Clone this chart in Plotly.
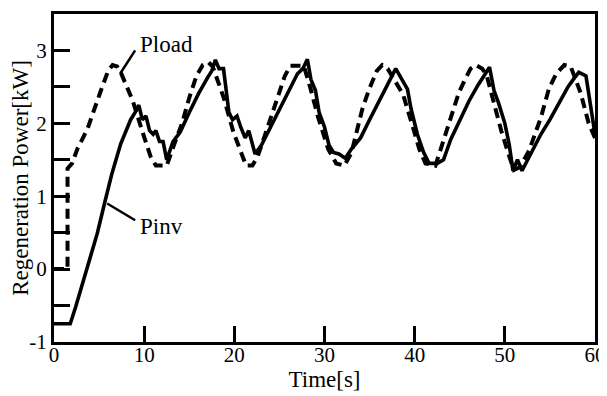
import plotly.graph_objects as go

# Pload (dashed)
t_load = [0, 1.5, 1.5, 2.0, 2.6, 3.7, 5.2, 6.0, 6.5, 7.0, 7.4, 8.7, 10.0, 10.7, 11.3, 12.5,
          13.3, 14.2, 15.0, 15.8, 16.5, 17.1, 17.6, 18.8, 19.9, 20.7, 21.3, 22.0, 22.6, 23.7,
          24.8, 25.6, 26.2, 27.7, 28.4, 29.3, 30.4, 31.3, 32.2, 33.0, 34.2, 34.9, 35.8, 36.4,
          37.0, 38.0, 38.7, 39.8, 40.5, 41.2, 42.3, 42.9, 44.0, 44.9, 45.5, 46.2, 46.8, 47.5,
          48.0, 48.8, 49.6, 50.4, 51.0, 51.7, 52.7, 54.0, 54.9, 55.7, 56.6, 57.3, 58.4, 59.3, 60.0]
p_load = [0, 0, 1.38, 1.45, 1.65, 1.92, 2.45, 2.72, 2.8, 2.78, 2.7, 2.32, 1.81, 1.55, 1.42, 1.42,
          1.7, 2.0, 2.35, 2.65, 2.8, 2.84, 2.78, 2.36, 1.88, 1.6, 1.42, 1.42, 1.55, 1.95,
          2.35, 2.65, 2.79, 2.79, 2.5, 2.08, 1.65, 1.45, 1.42, 1.6, 2.2, 2.45, 2.72, 2.8,
          2.75, 2.55, 2.4, 1.95, 1.65, 1.45, 1.42, 1.65, 2.05, 2.42, 2.58, 2.75, 2.8, 2.75,
          2.65, 2.27, 1.9, 1.58, 1.36, 1.4, 1.63, 2.08, 2.48, 2.68, 2.8, 2.78, 2.42, 2.0, 1.8]

# Pinv (solid)
t_inv = [0, 1.8, 2.4, 3.7, 4.8, 5.6, 6.4, 7.4, 8.5, 9.0, 9.4, 9.8, 10.2, 10.6, 11.0, 11.3, 11.7,
         12.1, 12.5, 13.2, 14.0, 15.0, 16.0, 17.0, 17.5, 17.9, 18.3, 18.8, 19.4, 19.8, 20.3,
         20.7, 21.2, 21.6, 22.3, 23.0, 24.0, 25.0, 26.0, 27.0, 27.6, 28.1, 28.5, 29.0, 29.4,
         30.0, 30.5, 31.0, 31.6, 32.3, 33.0, 34.0, 35.0, 36.0, 37.0, 37.9, 38.5, 39.2, 39.6,
         40.3, 41.0, 41.6, 42.5, 43.2, 44.0, 45.0, 46.0, 47.0, 47.8, 48.3, 48.8, 49.3, 50.0,
         50.5, 50.9, 51.4, 51.9, 52.5, 53.3, 54.0, 55.0, 56.0, 57.0, 57.7, 58.2, 59.0, 59.4, 60.0]
p_inv = [-0.75, -0.75, -0.52, 0.03, 0.49, 0.9, 1.3, 1.72, 2.05, 2.15, 2.25, 2.05, 2.1, 1.9, 1.85,
         1.9, 1.75, 1.75, 1.5, 1.75, 1.88, 2.15, 2.4, 2.62, 2.72, 2.87, 2.75, 2.75, 2.15, 2.05,
         2.1, 1.95, 1.8, 1.9, 1.58, 1.7, 1.95, 2.2, 2.45, 2.68, 2.75, 2.88, 2.6, 2.45, 2.15,
         1.95, 1.7, 1.6, 1.58, 1.52, 1.65, 1.8, 2.05, 2.3, 2.55, 2.75, 2.62, 2.47, 2.2,
         1.85, 1.6, 1.45, 1.45, 1.5, 1.78, 2.05, 2.3, 2.52, 2.68, 2.77, 2.45, 2.28, 2.0,
         1.7, 1.35, 1.5, 1.35, 1.5, 1.7, 1.85, 2.05, 2.28, 2.5, 2.62, 2.7, 2.65, 2.3, 1.85]

x_ticks = [0, 10, 20, 30, 40, 50, 60]
y_ticks = [-1, 0, 1, 2, 3]

FONT = "Liberation Serif, Times New Roman, serif"

fig = go.Figure()
fig.add_trace(go.Scatter(x=t_load, y=p_load, mode="lines",
                         line=dict(color="black", width=4, dash="10px,6px"),
                         name="Pload", showlegend=False))
fig.add_trace(go.Scatter(x=t_inv, y=p_inv, mode="lines",
                         line=dict(color="black", width=3.6),
                         name="Pinv", showlegend=False))

# leader lines
fig.add_shape(type="line", xref="x", yref="y", x0=7.33, y0=2.68, x1=9.0, y1=3.0,
              line=dict(color="black", width=2.5))
fig.add_shape(type="line", xref="x", yref="y", x0=5.9, y0=0.9, x1=9.0, y1=0.67,
              line=dict(color="black", width=2.5))
fig.add_annotation(x=9.3, y=3.08, text="Pload", showarrow=False, xanchor="left",
                   yanchor="middle", font=dict(family=FONT, size=23, color="black"))
fig.add_annotation(x=9.3, y=0.59, text="Pinv", showarrow=False, xanchor="left",
                   yanchor="middle", font=dict(family=FONT, size=23, color="black"))

# page body has an 8px margin, so the figure is 8px smaller than the window
fig.update_layout(
    width=599, height=388,
    margin=dict(l=46, r=12, t=6, b=54),
    paper_bgcolor="white", plot_bgcolor="white",
    font=dict(family=FONT, color="black", size=21),
    xaxis=dict(range=[0, 60], tickvals=x_ticks, ticktext=[str(v) for v in x_ticks],
               ticks="inside", ticklen=16, tickwidth=3, tickcolor="black",
               ticklabelstandoff=-8,
               showline=True, linewidth=3, linecolor="black", mirror=True,
               showgrid=False, zeroline=False, automargin=False,
               tickfont=dict(family=FONT, size=21, color="black"),
               title=dict(text="Time[s]", font=dict(family=FONT, size=23), standoff=0)),
    yaxis=dict(range=[-1, 3.5], tickvals=y_ticks, ticktext=[str(v) for v in y_ticks],
               ticks="inside", ticklen=16, tickwidth=3, tickcolor="black",
               minor=dict(dtick=0.5, tick0=0, ticks="inside", ticklen=16, tickwidth=3,
                          tickcolor="black", showgrid=False),
               showline=True, linewidth=3, linecolor="black", mirror=True,
               showgrid=False, zeroline=False, automargin=False,
               tickfont=dict(family=FONT, size=21, color="black"),
               title=dict(text="Regeneration Power[kW]", font=dict(family=FONT, size=23),
                          standoff=2)),
)

fig.write_html("out.html")
